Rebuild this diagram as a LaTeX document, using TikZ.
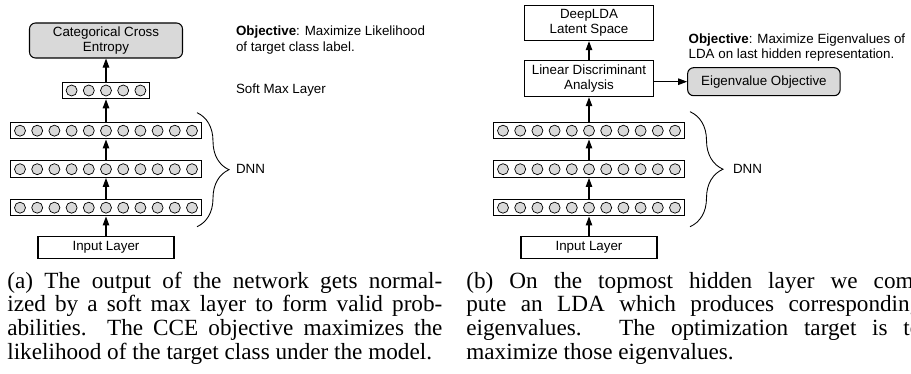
\documentclass[tikz,border=0pt]{standalone}
\usepackage{fontspec}
\setmainfont{Liberation Serif}
\setsansfont{Liberation Sans}
\usepackage{tikz}
\usetikzlibrary{arrows.meta,decorations.pathreplacing}

\begin{document}
\begin{tikzpicture}[x=0.2mm, y=-0.2mm,
    box/.style={draw, line width=0.6pt, align=center, inner sep=0,
        font=\sffamily\fontsize{7.6}{8.9}\selectfont},
    objbox/.style={box, rounded corners=1.2mm, fill=black!15},
    layer/.style={draw, line width=0.6pt, minimum height=3.3mm, inner sep=0},
    unit/.style={circle, draw, line width=0.4pt, fill=black!15, minimum size=2.2mm, inner sep=0},
    arr/.style={-{Triangle[length=1.8mm,width=1.3mm]}, line width=0.6pt},
    txt/.style={anchor=west, align=left, inner sep=0,
        font=\sffamily\fontsize{7.6}{8.9}\selectfont},
    brc/.style={decorate, decoration={brace, amplitude=#1}, line width=0.5pt},
    captxt/.style={anchor=base west, inner sep=0}]
    \useasboundingbox (0,0) rectangle (911,373);

    \node[objbox, minimum width=30.6mm, minimum height=7mm] (cceA) at (106,40.5) {Categorical Cross\\Entropy};
    \node[layer, minimum width=17.4mm] (softA) at (106,90.5) {};
    \foreach \i in {1,...,5}
        \node[unit] (softA-\i) at ({106+(\i-3)*17.2},90.5) {};
    \foreach \y [count=\k] in {130.7,169.2,207.7} {
        \node[layer, minimum width=38.2mm] (hA\k) at (106,\y) {};
        \foreach \i in {1,...,11}
            \node[unit] (hA\k-\i) at ({106+(\i-6)*17.2},\y) {};
    }
    \node[box, minimum width=27.2mm, minimum height=4.3mm] (inA) at (106,247.5) {Input Layer};
    \draw[arr] (inA) -- (hA3);
    \draw[arr] (hA3) -- (hA2);
    \draw[arr] (hA2) -- (hA1);
    \draw[arr] (hA1) -- (softA);
    \draw[arr] (softA) -- (cceA);
    \coordinate (bA1) at (197,112.7);
    \coordinate (bA2) at (197,226.7);
    \draw[brc=6.4mm] (bA1) -- (bA2);
    \node[txt] (dnnA) at (235.7,169.3) {DNN};
    \node[txt] (smA) at (235.7,90) {Soft Max Layer};
    \node[txt] (objA) at (235.7,40.3) {\textbf{Objective}: Maximize Likelihood\\of target class label.};

    \node[box, minimum width=25.7mm, minimum height=7.1mm] (lsB) at (589,22.9) {DeepLDA\\Latent Space};
    \node[box, minimum width=25.7mm, minimum height=7.2mm] (ldaB) at (589,78.7) {Linear Discriminant\\Analysis};
    \node[objbox, minimum width=30.5mm, minimum height=5.6mm] (eigB) at (763.9,81.7) {Eigenvalue Objective};
    \foreach \y [count=\k] in {130.7,169.2,207.7} {
        \node[layer, minimum width=38.2mm] (hB\k) at (589,\y) {};
        \foreach \i in {1,...,11}
            \node[unit] (hB\k-\i) at ({589+(\i-6)*17.2},\y) {};
    }
    \node[box, minimum width=27.2mm, minimum height=4.3mm] (inB) at (589,247.5) {Input Layer};
    \draw[arr] (inB) -- (hB3);
    \draw[arr] (hB3) -- (hB2);
    \draw[arr] (hB2) -- (hB1);
    \draw[arr] (hB1) -- (ldaB);
    \draw[arr] (ldaB) -- (lsB);
    \draw[arr] (ldaB.east |- eigB) -- (eigB);
    \coordinate (bB1) at (690,111.7);
    \coordinate (bB2) at (690,226.7);
    \draw[brc=6.6mm] (bB1) -- (bB2);
    \node[txt] (dnnB) at (732.7,169.3) {DNN};
    \node[txt] (objB) at (688.3,47.5) {\textbf{Objective}: Maximize Eigenvalues of\\LDA on last hidden representation.};

    \node[captxt] (capA) at (7,288) {\parbox[t]{8.7cm}{\fontsize{13.2}{13.6}\selectfont
        (a) The output of the network gets normal-\linebreak ized by a soft max layer to form valid prob-\linebreak abilities. The CCE objective maximizes the\linebreak likelihood of the target class under the model.}};
    \node[captxt] (capB) at (466,288) {\parbox[t]{9.1cm}{\fontsize{13.2}{13.6}\selectfont
        (b) On the topmost hidden layer we com-\linebreak pute an LDA which produces corresponding\linebreak eigenvalues. The optimization target is to\linebreak maximize those eigenvalues.}};
\end{tikzpicture}
\end{document}
